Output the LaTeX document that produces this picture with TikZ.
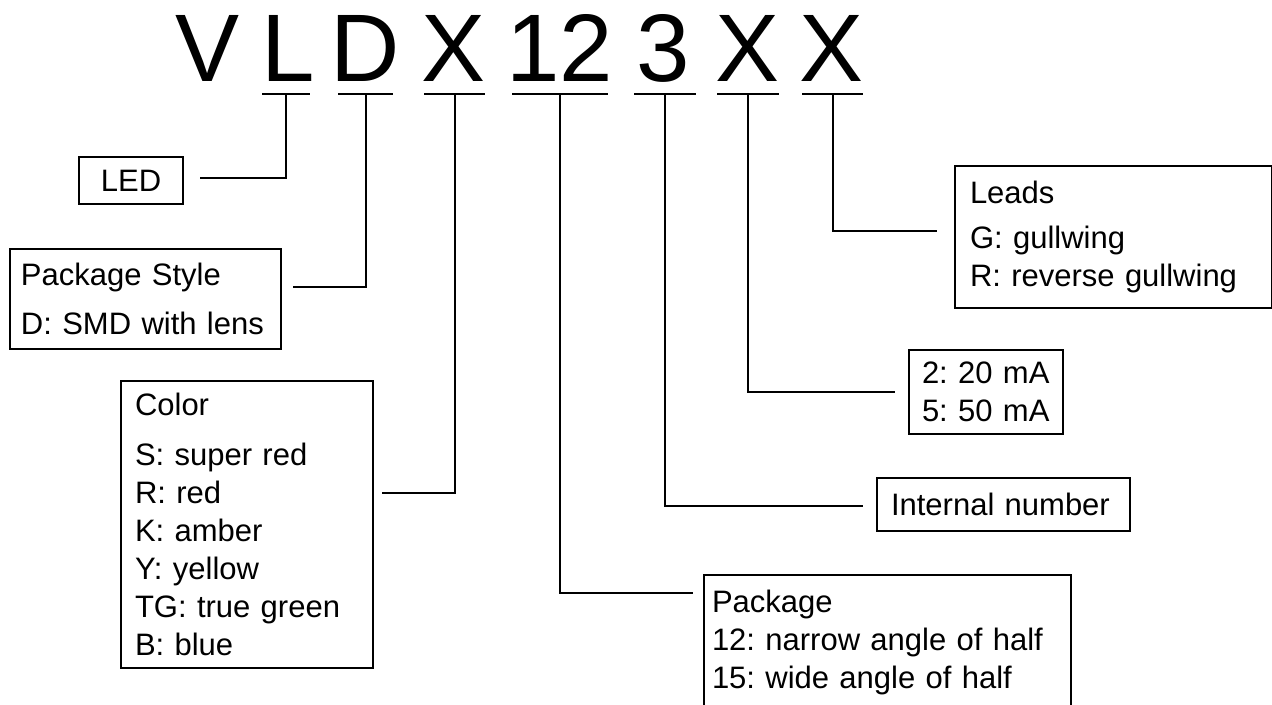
\documentclass[tikz,border=0pt]{standalone}
\usepackage{fontspec}
\setmainfont{Liberation Sans}
\newcommand\partfont{\fontsize{72}{72}\selectfont}
\newcommand\legendfont{\fontsize{23.25}{28.5}\selectfont\frenchspacing}

\begin{document}
\begin{tikzpicture}[x=0.75pt,y=-0.75pt,line width=1.5pt,
  part/.style={font=\partfont,anchor=base,inner sep=0pt},
  legend/.style={draw,font=\legendfont,align=left,anchor=north west,inner ysep=0pt}]
  \useasboundingbox (0,0) rectangle (1272,704);
  \fill[white] (0,0) rectangle (1272,704);

  % Part number
  \node[part] (ch-v) at (208,81) {V};
  \foreach \ch/\x/\ux/\len/\key in {L/288/286/48/led,D/365/365.5/55/style,
      X/454/454.5/61/color,12/560/560/96/pkg,3/663.5/665/62/num,
      X/748/748/62/cur,X/832/832.5/61/leads}{
    \node[part] (ch-\key) at (\x,81) {\ch};
    \draw (\ux-\len/2,94) -- (\ux+\len/2,94);
    \coordinate (tap-\key) at (\ux,94);
  }

  % Legend boxes
  \node[legend,anchor=center,inner sep=0pt,minimum width=78pt,
    minimum height=35.25pt] (led) at (131,180.5) {LED};
  \node[legend,inner xsep=8.25pt,text width=186.75pt,minimum height=75pt]
    (style) at (9,248) {Package Style\\[8.25pt]D: SMD with lens};
  \node[legend,inner xsep=10.5pt,text width=168pt,minimum height=215.25pt]
    (color) at (120,380) {Color\\[9pt]S: super red\\R: red\\K: amber\\
      Y: yellow\\TG: true green\\B: blue};
  \node[legend,inner xsep=11.25pt,text width=215.25pt,minimum height=106.5pt]
    (leads) at (954,165) {Leads\\[5.25pt]G: gullwing\\R: reverse gullwing};
  \node[legend,inner xsep=9.75pt,text width=96pt,minimum height=63pt]
    (cur) at (908,349) {2: 20 mA\\5: 50 mA};
  \node[legend,inner xsep=10.5pt,text width=168.75pt,minimum height=39.75pt]
    (num) at (876,477) {Internal number};
  \node[legend,inner xsep=6pt,text width=263.25pt,minimum height=100.5pt]
    (pkg) at (703,574) {Package\\12: narrow angle of half\\
      15: wide angle of half};

  % Leaders
  \draw (tap-led) |- ([shift={(16,-2.5)}]led.east);
  \draw (tap-style) |- ([shift={(11,-12)}]style.east);
  \draw (tap-color) |- ([shift={(8,-31.5)}]color.east);
  \draw (tap-pkg) |- ([shift={(-10,-49)}]pkg.west);
  \draw (tap-num) |- ([shift={(-13,1.5)}]num.west);
  \draw (tap-cur) |- ([shift={(-13,0)}]cur.west);
  \draw (tap-leads) |- ([shift={(-17,-6)}]leads.west);
\end{tikzpicture}
\end{document}
